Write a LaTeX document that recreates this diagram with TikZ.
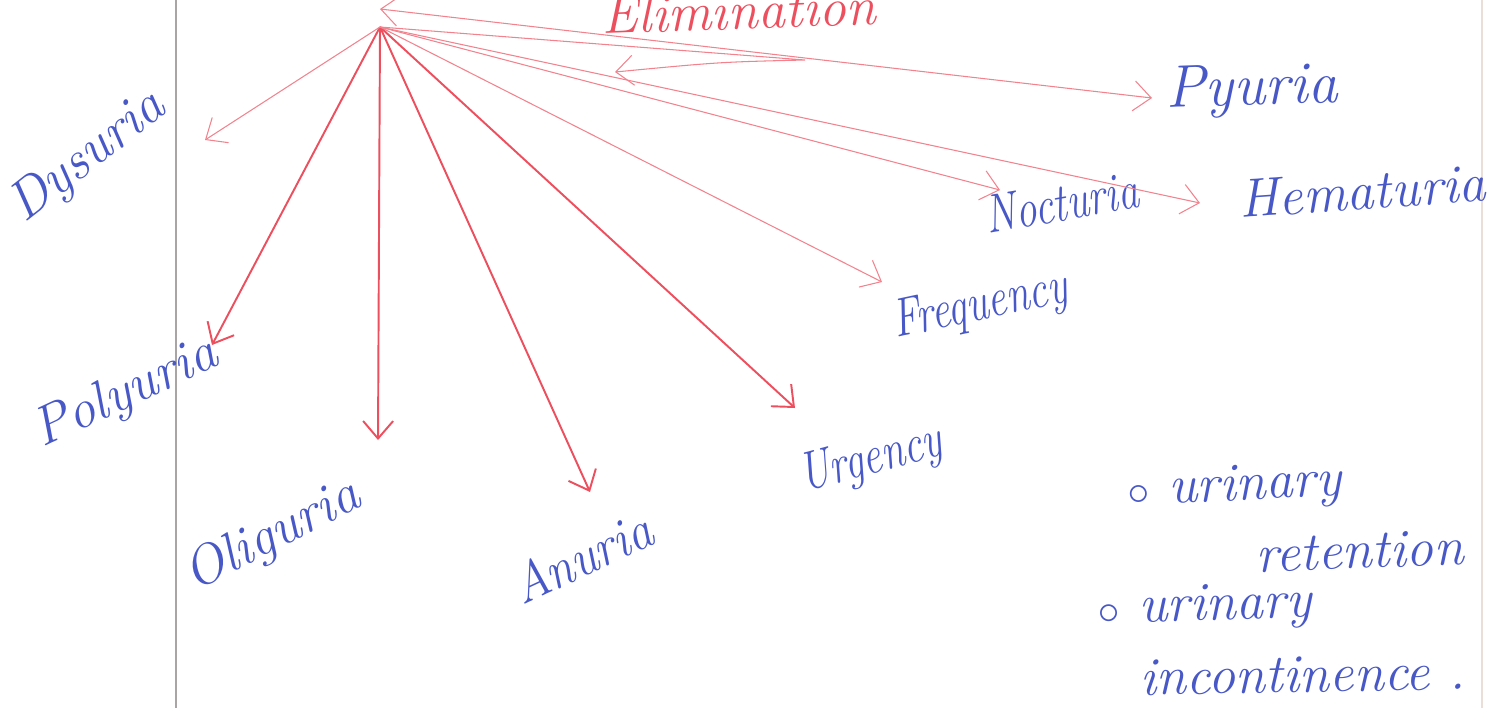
\documentclass[tikz,border=0pt]{standalone}
\usetikzlibrary{arrows.meta}
\definecolor{penRed}{HTML}{EC4F5E}
\definecolor{penPink}{HTML}{F2838E}
\definecolor{penBlue}{HTML}{4858C6}
\definecolor{marginGrey}{HTML}{A9A5A5}
\definecolor{marginPink}{HTML}{EBDDD8}
\newcommand{\tight}[1]{\scalebox{0.77}[1]{#1}}

\begin{document}
\begin{tikzpicture}[x=0.02cm, y=-0.02cm,
        word/.style={text=penBlue, font=\fontsize{31}{36}\selectfont\itshape,
                     inner sep=0pt, anchor=base west},
        title/.style={word, text=penRed},
        rama/.style={penRed, line width=1.1pt, -{Straight Barb[length=3.5mm,width=6mm]}},
        ramaFina/.style={rama, draw=penPink, line width=0.6pt}]
        \useasboundingbox (0,0) rectangle (1503,708);
        % page margins
        \draw[marginGrey, line width=0.8pt] (176,0) -- (176,708);
        \draw[marginPink, line width=0.8pt] (1482,0) -- (1482,708);
        % title and centre
        \node[title, rotate=2] (E) at (602,34) {Elimination};
        \coordinate (hub) at (380,27);
        \coordinate (hubTop) at (380,9);
        % words
        \node[word, rotate=38] (dys) at (24,224) {Dysuria};
        \node[word, rotate=25] (pol) at (42,448) {Polyuria};
        \node[word, rotate=27] (oli) at (194,592) {Oliguria};
        \node[word, rotate=25] (anu) at (522,606) {\scalebox{0.92}[1]{Anuria}};
        \node[word, rotate=15] (urg) at (804,492) {\tight{Urgency}};
        \node[word, rotate=12] (fre) at (896,338) {\tight{Frequency}};
        \node[word, rotate=10] (noc) at (988,234) {\tight{Nocturia}};
        \node[word, rotate=4]  (hem) at (1240,218) {Hematuria};
        \node[word, rotate=2, font=\fontsize{34}{40}\selectfont\itshape] (pyu) at (1166,108) {Pyuria};
        \node[word, rotate=3]  (ret1) at (1128,506) {$\circ$\ urinary};
        \node[word, rotate=2]  (ret2) at (1256,572) {retention};
        \node[word, rotate=2]  (inc1) at (1098,624) {$\circ$\ urinary};
        \node[word, rotate=1]  (inc2) at (1140,695) {incontinence .};
        % arrow tips
        \coordinate (tDys) at (205,140);
        \coordinate (tPol) at (212,345);
        \coordinate (tOli) at (378,440);
        \coordinate (tAnu) at (590,492);
        \coordinate (tUrg) at (795,408);
        \coordinate (tFre) at (882,282);
        \coordinate (tNoc) at (1000,190);
        \coordinate (tHem) at (1200,203);
        \coordinate (tPyu) at (1152,98);
        \coordinate (kink) at (805,60);
        \coordinate (tHook) at (615,72);
        \foreach \t in {tPol,tOli,tAnu,tUrg} \draw[rama] (hub) -- (\t);
        \foreach \t in {tDys,tFre,tNoc,tHem} \draw[ramaFina] (hub) -- (\t);
        \draw[ramaFina, {Straight Barb[length=3.5mm,width=6mm]}-{Straight Barb[length=3.5mm,width=6mm]}] (hubTop) -- (tPyu);
        \draw[ramaFina] (hub) -- (kink) .. controls (720,62) .. (tHook);
      \end{tikzpicture}
\end{document}
